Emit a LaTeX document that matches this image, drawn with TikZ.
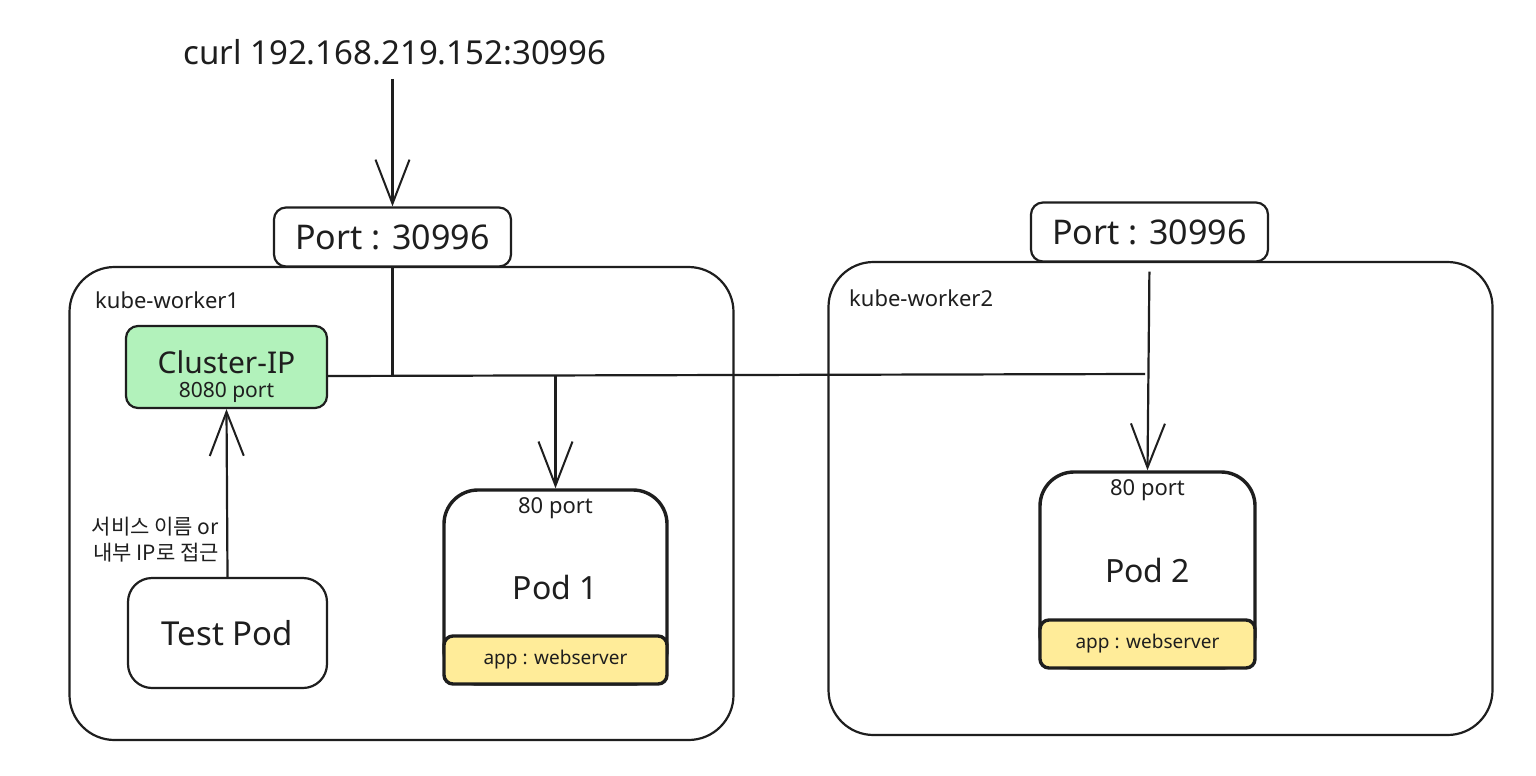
\documentclass[tikz,border=0pt]{standalone}
\usepackage{fontspec}
\setmainfont{Noto Sans}
\newfontfamily\krfont{Noto Sans CJK KR}
\usetikzlibrary{arrows.meta}
\definecolor{ink}{HTML}{1E1E1E}
\definecolor{cipgreen}{HTML}{B2F2BB}
\definecolor{appyellow}{HTML}{FFEC99}

\begin{document}
\begin{tikzpicture}[x=1pt,y=-1pt,
  rbox/.style={draw=ink,line width=2.2pt,fill=white,inner sep=0pt,text=ink},
  portbox/.style={rbox,minimum width=237pt,minimum height=59pt,rounded corners=12pt,font=\fontsize{34}{38}\selectfont},
  worker/.style={rbox,fill=none,minimum width=664pt,minimum height=473pt,rounded corners=45pt},
  podbox/.style={rbox,line width=3.4pt,rounded corners=34pt,font=\fontsize{32}{36}\selectfont},
  applabel/.style={rbox,line width=3.4pt,fill=appyellow,rounded corners=9pt,minimum height=48pt,font=\fontsize{19}{22}\selectfont},
  txt/.style={inner sep=0pt,text=ink},
  wire/.style={draw=ink,line width=2.2pt},
  arr/.style={wire,-{Straight Barb[length=44pt,width=34pt,line width=2pt]}}]
\useasboundingbox (0,0) rectangle (1536,776); % --- same size as reference
\fill[white] (0,0) rectangle (1536,776);

%----- the two worker nodes
\node[worker] (worker1) at (401.5,503.5) {};
\node[worker] (worker2) at (1160.5,498.5) {};
\node[txt,anchor=west,font=\fontsize{22}{26}\selectfont] (w1name) at (95,300) {kube-worker1};
\node[txt,anchor=west,font=\fontsize{22}{26}\selectfont] (w2name) at (849,298) {kube-worker2};

%----- NodePort on each worker
\node[portbox] (port1) at (392.5,237) {Port : 30996};
\node[portbox] (port2) at (1149.5,232) {Port : 30996};
\node[txt,font=\fontsize{33}{38}\selectfont] (curl) at (395,52) {curl 192.168.219.152:30996};

%----- service and pods
\node[rbox,fill=cipgreen,minimum width=201pt,minimum height=82pt,rounded corners=12pt] (cip) at (226.5,367) {};
\node[txt,font=\fontsize{30}{34}\selectfont] (cipname) at (226.5,362) {Cluster-IP};
\node[txt,font=\fontsize{21}{24}\selectfont] (cipport) at (226.5,392) {8080 port};
\node[rbox,minimum width=199pt,minimum height=110pt,rounded corners=24pt,font=\fontsize{33}{38}\selectfont] (testpod) at (227.5,633) {Test Pod};

\node[podbox,minimum width=223pt,minimum height=194pt] (pod1) at (555.5,587) {Pod 1};
\node[podbox,minimum width=215pt,minimum height=196pt] (pod2) at (1147.5,570) {Pod 2};
\foreach \p/\w in {pod1/223pt,pod2/215pt}{
\node[txt,font=\fontsize{22}{26}\selectfont,anchor=north] (\p port) at ([yshift=-9pt]\p.north) {80 port}; % container port
\node[applabel,anchor=south,minimum width=\w] (\p app) at (\p.south) {app : webserver};
}

%----- traffic paths
\coordinate (busL) at (cip.east |- 0,376);
\coordinate (busR) at (1145,374);
\draw[arr] (port1.north |- curl.south) ++(0,14) -- (port1.north);
\draw[wire] (busL) -- (busR);
\draw[wire] (port1.south) -- (port1.south |- busL);
\draw[arr] (pod1.north |- busL) -- (pod1.north);
\draw[arr,shorten <=9pt] (port2.south) -- (pod2.north);
\draw[arr] (testpod.north) -- (cip.south);
\node[txt,anchor=east,align=right,font=\krfont\fontsize{21}{26}\selectfont] (access) at (219,540) {서비스 이름 or\\내부 IP로 접근};
\end{tikzpicture}
\end{document}
